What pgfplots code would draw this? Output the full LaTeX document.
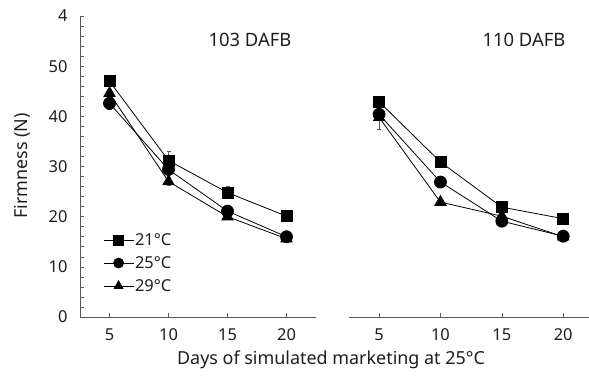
\documentclass[border=0pt]{standalone}
\usepackage{fontspec}
\setmainfont{Noto Sans}
\usepackage{pgfplots}
\pgfplotsset{compat=1.18}
\definecolor{txt}{HTML}{1E1E1E}
\definecolor{axc}{HTML}{5A5A5A}
\pgfplotsset{
  common/.style={
    scale only axis,
    ymin=0, ymax=60,
    /pgf/number format/assume math mode=true,
    tick label style={font=\fontsize{16.5}{17}\selectfont, text=txt},
    xtick={5,10,15,20},
    tick align=inside,
    major tick length=3.5bp,
    minor tick length=3.5bp,
    every tick/.style={axc, line width=0.6pt},
    axis line style={axc, line width=0.8pt},
    xticklabel style={yshift=-8bp},
    clip=false,
  },
  ser/.style={black, line width=0.8pt, mark options={solid, fill=black}},
  eb/.style={error bars/.cd, y dir=both, y explicit, error bar style={line width=0.5pt, axc}, error mark options={rotate=90, mark size=2bp, line width=0.5pt, axc}},
}
\begin{document}
\begin{tikzpicture}
\useasboundingbox (0bp,0bp) rectangle (589bp,383bp);
\begin{axis}[common,
  at={(80bp,66bp)}, anchor=south west,
  width=236bp, height=301bp,
  xmin=2.5, xmax=22.5,
  axis x line*=bottom, axis y line*=left,
  ytick={0,10,20,30,40,50,60},
  yticklabels={0,10,20,30,40,50,4},
  minor ytick={2,4,...,58},
  yticklabel style={xshift=-9bp},
  legend style={draw=none, fill=none, at={(axis cs:4.45,16.9)}, anchor=north west,
    font=\fontsize{16.5}{17}\selectfont, text=txt, row sep=7.5bp, inner sep=0pt,
    nodes={inner xsep=1bp, inner ysep=1bp}},
  legend image code/.code={
    \draw[#1, mark=none] (0bp,0bp) -- (30bp,0bp);
    \draw[#1, mark size=5bp] plot coordinates {(15bp,0bp)};
  },
  legend cell align=left,
]
\addplot[ser, mark=square*, mark size=5.5bp, eb] coordinates {
  (5,47.0) +- (0,0.8) (10,31.2) +- (0,1.8) (15,24.8) +- (0,1.2) (20,20.1) +- (0,0.6)};
\addlegendentry{21°C}
\addplot[ser, mark=*, mark size=6bp, eb] coordinates {
  (5,42.6) +- (0,1.2) (10,29.4) +- (0,1.0) (15,21.1) +- (0,1.0) (20,16.0) +- (0,0.6)};
\addlegendentry{25°C}
\addplot[ser, mark=triangle*, mark size=6.5bp, eb] coordinates {
  (5,44.6) +- (0,0.8) (10,27.0) +- (0,0.8) (15,20.0) +- (0,0.6) (20,15.6) +- (0,0.5)};
\addlegendentry{29°C}
\node[font=\fontsize{18.5}{19}\selectfont, text=txt] at (axis cs:16.9,55.2) {103 DAFB};
\end{axis}
\begin{axis}[common,
  at={(349bp,66bp)}, anchor=south west,
  width=240bp, height=301bp,
  xmin=2.55, xmax=22.1,
  axis x line*=bottom, axis y line=none,
]
\addplot[ser, mark=square*, mark size=5.5bp, eb] coordinates {
  (5,42.9) +- (0,0.6) (10,30.9) +- (0,0.8) (15,21.9) +- (0,0.6) (20,19.6) +- (0,0.5)};
\addplot[ser, mark=*, mark size=6bp, eb] coordinates {
  (5,40.4) +- (0,1.0) (10,26.9) +- (0,0.8) (15,19.1) +- (0,0.6) (20,16.1) +- (0,0.5)};
\addplot[ser, mark=triangle*, mark size=6.5bp, eb] coordinates {
  (5,39.8) +- (0,2.4) (10,22.9) +- (0,0.6) (15,20.1) +- (0,0.5) (20,16.0) +- (0,0.5)};
\node[font=\fontsize{18.5}{19}\selectfont, text=txt] at (axis cs:16.8,55.2) {110 DAFB};
\end{axis}
\node[rotate=90, font=\fontsize{18}{19}\selectfont, text=txt] at (22bp,217bp) {Firmness (N)};
\node[font=\fontsize{18}{19}\selectfont, text=txt] at (331bp,23bp) {Days of simulated marketing at 25°C};
\end{tikzpicture}
\end{document}
